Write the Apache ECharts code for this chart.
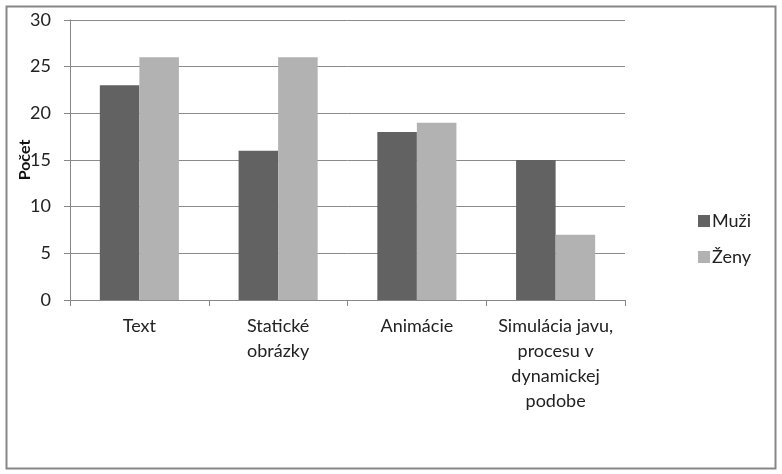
<!DOCTYPE html>
<html><head><meta charset="utf-8">
<script src="https://cdn.jsdelivr.net/npm/echarts@6/dist/echarts.min.js"></script>
<style>html,body{margin:0;padding:0;background:#fff}#c{width:782px;height:474px}</style>
</head><body><div id="c"></div>
<script>
var categories = ['Text', 'Statické\nobrázky', 'Animácie', 'Simulácia javu,\nprocesu v\ndynamickej\npodobe'];
var muzi = [23, 16, 18, 15];
var zeny = [26, 26, 19, 7];
var yTicks = [0, 5, 10, 15, 20, 25, 30];

var FONT = 'Lato, "Open Sans", sans-serif';
var chart = echarts.init(document.getElementById('c'));
chart.setOption({
  backgroundColor: '#fff',
  animation: false,
  textStyle: { fontFamily: FONT },
  graphic: [{
    type: 'rect', shape: { x: 6.5, y: 6.5, width: 769, height: 462 },
    style: { fill: 'none', stroke: '#878787', lineWidth: 2 }, silent: true
  }],
  grid: { left: 70, top: 20, right: 157, bottom: 174, containLabel: false, outerBoundsMode: 'none' },
  legend: {
    orient: 'vertical', left: 693, top: 207, itemWidth: 12, itemHeight: 12, itemGap: 18,
    icon: 'rect',
    textStyle: { fontSize: 18, color: '#222', fontFamily: FONT, padding: [0, 0, 0, -3] },
    data: ['Muži', 'Ženy']
  },
  xAxis: {
    type: 'category', data: categories,
    axisLine: { lineStyle: { color: '#888', width: 1 } },
    axisTick: { show: true, length: 6, lineStyle: { color: '#888' } },
    axisLabel: { fontSize: 18, color: '#222', lineHeight: 25, margin: 14, interval: 0, fontFamily: FONT }
  },
  yAxis: {
    type: 'value', min: 0, max: 30, interval: 5,
    name: 'Počet', nameLocation: 'middle', nameGap: 37, nameRotate: 90, nameMoveOverlap: false,
    nameTextStyle: { fontSize: 16, fontWeight: 'bold', color: '#111', fontFamily: FONT },
    axisLine: { show: true, lineStyle: { color: '#888' } },
    axisTick: { show: true, length: 6, lineStyle: { color: '#888' } },
    splitLine: { lineStyle: { color: '#8a8a8a', width: 1 } },
    axisLabel: { fontSize: 18, color: '#222', margin: 19, fontFamily: FONT,
      formatter: function (v) { return yTicks.indexOf(v) >= 0 ? String(v) : ''; } }
  },
  series: [
    { name: 'Muži', type: 'bar', data: muzi, barGap: '0%', barCategoryGap: '43%',
      itemStyle: { color: '#626262' } },
    { name: 'Ženy', type: 'bar', data: zeny, barGap: '0%', barCategoryGap: '43%',
      itemStyle: { color: '#b2b2b2' } }
  ]
});
</script></body></html>
